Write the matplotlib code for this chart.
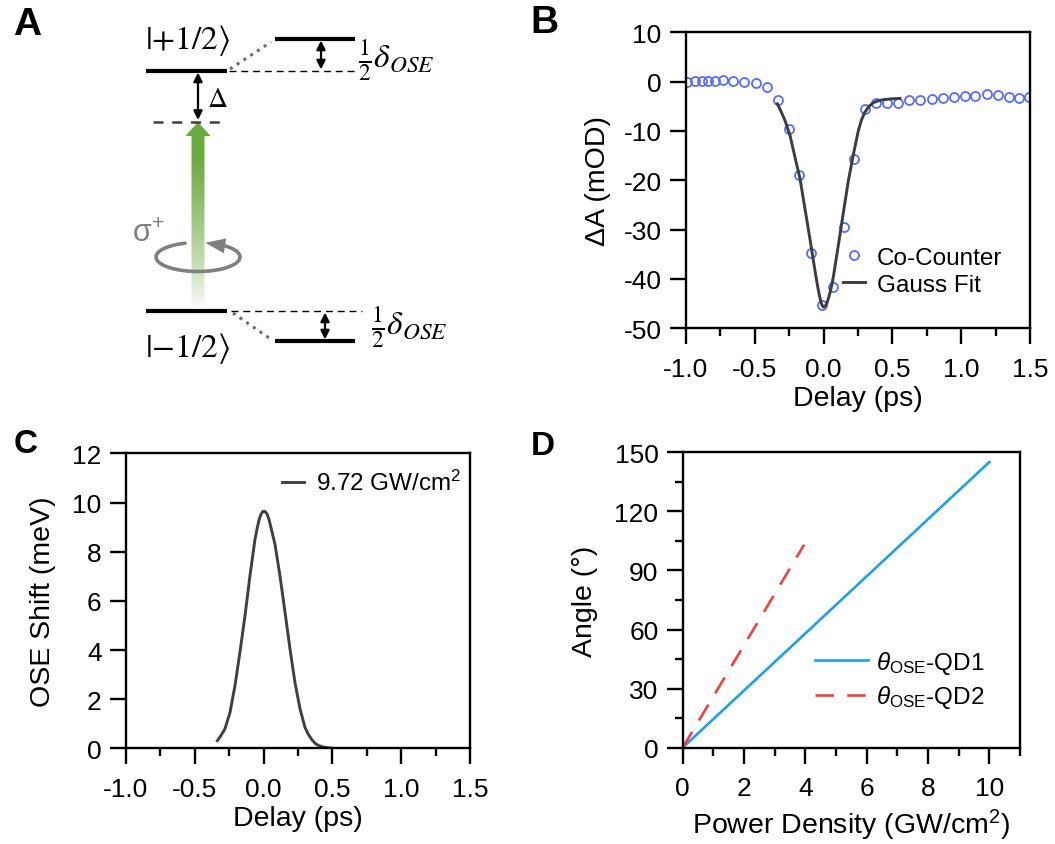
import numpy as np
import matplotlib
matplotlib.use('Agg')
import matplotlib.pyplot as plt
from matplotlib.patches import Polygon
from matplotlib.ticker import MultipleLocator, FormatStrFormatter

plt.rcParams['font.family'] = ['Liberation Sans', 'DejaVu Sans']
plt.rcParams['mathtext.fontset'] = 'custom'
plt.rcParams['mathtext.rm'] = 'Liberation Sans'
plt.rcParams['mathtext.it'] = 'Liberation Sans:italic'
plt.rcParams['axes.unicode_minus'] = False

# ---------------- data ----------------
# panel B: co-counter transient absorption
b_delay = [-0.99, -0.935, -0.886, -0.838, -0.79, -0.734, -0.656, -0.576, -0.494,
           -0.414, -0.334, -0.254, -0.176, -0.094, -0.012, 0.066, 0.146, 0.221,
           0.30, 0.38, 0.46, 0.54, 0.62, 0.70, 0.785, 0.865, 0.945, 1.025, 1.10,
           1.185, 1.265, 1.35, 1.42, 1.495]
b_dA = [0.0, 0.07, 0.07, 0.1, 0.1, 0.27, 0.07, -0.07, -0.27,
        -1.1, -3.8, -9.7, -18.9, -34.8, -45.2, -41.6, -29.5, -15.7,
        -5.5, -4.3, -4.3, -4.4, -3.7, -3.7, -3.5, -3.3, -3.1, -2.9, -2.9,
        -2.5, -2.8, -3.1, -3.3, -3.2]
# panel B: gauss fit curve
fit_delay = [-0.336, -0.31, -0.28, -0.244, -0.208, -0.171, -0.135, -0.099,
             -0.0625, -0.045, -0.03, -0.018, -0.008, 0.003, 0.013, 0.024,
             0.036, 0.052, 0.071, 0.107, 0.144, 0.180, 0.217, 0.253, 0.275,
             0.30, 0.33, 0.36, 0.395, 0.434, 0.49, 0.555]
fit_dA = [-4.5, -6.0, -7.9, -10.9, -15.3, -19.7, -25.8, -31.9,
          -38.3, -41.2, -43.4, -44.8, -45.5, -45.7, -45.5, -44.9,
          -43.9, -42.2, -39.6, -33.2, -26.5, -20.1, -14.7, -9.9, -7.8,
          -6.2, -5.0, -4.3, -3.9, -3.65, -3.5, -3.4]
# panel C: OSE shift at 9.72 GW/cm2
c_delay = [-0.336, -0.31, -0.281, -0.244, -0.208, -0.172, -0.135, -0.099,
           -0.0625, -0.045, -0.03, -0.018, -0.006, 0.004, 0.014, 0.026, 0.04,
           0.055, 0.07, 0.083, 0.119, 0.156, 0.192, 0.228, 0.265, 0.301, 0.325,
           0.35, 0.375, 0.398, 0.43, 0.459, 0.505]
c_shift = [0.31, 0.52, 0.79, 1.46, 2.55, 3.9, 5.4, 7.02,
           8.5, 9.0, 9.35, 9.53, 9.63, 9.65, 9.62, 9.52, 9.3,
           8.95, 8.6, 8.3, 7.02, 5.53, 4.04, 2.68, 1.6, 0.85, 0.57,
           0.36, 0.2, 0.12, 0.06, 0.03, 0.0]
# panel D: rotation angle vs power density
qd1_power = [0.0, 10.0]
qd1_angle = [0.0, 145.0]
qd2_power = [0.0, 3.96]
qd2_angle = [0.0, 103.0]

# ---------------- style ----------------
tickfs = 19
labelfs = 20.5
legfs = 17.5
spw = 1.7

fig = plt.figure(figsize=(10.55, 8.45), dpi=100)


def style_axes(ax):
    for s in ax.spines.values():
        s.set_linewidth(spw)
    ax.tick_params(which='both', direction='out', top=False, right=False,
                   width=spw, labelsize=tickfs)
    ax.tick_params(axis='x', which='both', pad=9)
    ax.tick_params(axis='y', which='both', pad=6)
    ax.tick_params(which='major', length=11.5)
    ax.tick_params(which='minor', length=5.5)


# ---------------- panel B ----------------
axB = fig.add_axes([0.6502, 0.6103, 0.3261, 0.3503])
axB.plot(b_delay, b_dA, 'o', mfc='none', mec='#5b6cf5', ms=6.5, mew=1.3,
         label='Co-Counter')
axB.plot(fit_delay, fit_dA, '-', color='#3c3c3c', lw=2.1, label='Gauss Fit',
         solid_joinstyle='round')
axB.set_xlim(-1.0, 1.5)
axB.set_ylim(-50, 10)
axB.xaxis.set_major_locator(MultipleLocator(0.5))
axB.xaxis.set_minor_locator(MultipleLocator(0.25))
axB.yaxis.set_major_locator(MultipleLocator(10))
axB.xaxis.set_major_formatter(FormatStrFormatter('%.1f'))
axB.yaxis.set_major_formatter(FormatStrFormatter('%d'))
style_axes(axB)
axB.set_xlabel('Delay (ps)', fontsize=labelfs, labelpad=3)
axB.set_ylabel('ΔA (mOD)', fontsize=labelfs, labelpad=9)
axB.legend(loc='upper left', bbox_to_anchor=(0.456, 0.275), frameon=False,
           fontsize=legfs, borderpad=0, borderaxespad=0, handlelength=0.9,
           handletextpad=0.5, labelspacing=0.2)

# ---------------- panel C ----------------
axC = fig.add_axes([0.1194, 0.1132, 0.3261, 0.3491])
axC.plot(c_delay, c_shift, '-', color='#404040', lw=2.1,
         label='9.72 GW/cm$^{2}$', solid_joinstyle='round')
axC.set_xlim(-1.0, 1.5)
axC.set_ylim(0, 12)
axC.xaxis.set_major_locator(MultipleLocator(0.5))
axC.xaxis.set_minor_locator(MultipleLocator(0.25))
axC.yaxis.set_major_locator(MultipleLocator(2))
axC.xaxis.set_major_formatter(FormatStrFormatter('%.1f'))
style_axes(axC)
axC.set_xlabel('Delay (ps)', fontsize=labelfs, labelpad=3)
axC.set_ylabel('OSE Shift (meV)', fontsize=labelfs, labelpad=12)
axC.legend(loc='upper left', bbox_to_anchor=(0.453, 0.943), frameon=False,
           fontsize=legfs, borderpad=0, borderaxespad=0, handlelength=0.9,
           handletextpad=0.5)

# ---------------- panel D ----------------
axD = fig.add_axes([0.6471, 0.1140, 0.3197, 0.3496])
axD.plot(qd1_power, qd1_angle, '-', color='#1ea0ea', lw=1.9,
         label=r'$\theta_{\mathrm{OSE}}$-QD1')
axD.plot(qd2_power, qd2_angle, '--', color='#f04040', lw=1.9, dashes=(7, 5),
         label=r'$\theta_{\mathrm{OSE}}$-QD2')
axD.set_xlim(0, 11)
axD.set_ylim(0, 150)
axD.xaxis.set_major_locator(MultipleLocator(2))
axD.xaxis.set_minor_locator(MultipleLocator(1))
axD.yaxis.set_major_locator(MultipleLocator(30))
axD.yaxis.set_minor_locator(MultipleLocator(15))
style_axes(axD)
axD.set_xlabel('Power Density (GW/cm$^{2}$)', fontsize=labelfs, labelpad=5)
axD.set_ylabel('Angle (°)', fontsize=labelfs, labelpad=12)
axD.legend(loc='upper left', bbox_to_anchor=(0.392, 0.334), frameon=False,
           fontsize=legfs, borderpad=0, borderaxespad=0, handlelength=2.2,
           handletextpad=0.3, labelspacing=0.3)

# ---------------- panel A : level diagram (pixel coordinates) ----------------
ov = fig.add_axes([0, 0, 1, 1], zorder=-1)
ov.set_xlim(0, 1055)
ov.set_ylim(845, 0)
ov.axis('off')

lev_l = (146, 227)
lev_r = (275, 355)
y_up, y_up_s = 72, 40
y_lo, y_lo_s = 312, 342
y_virt = 122.5

# green excitation arrow with fading gradient
arrow_xy = [(198, y_virt + 0.5), (210.5, 137), (204.5, 137), (204.5, 310),
            (191.5, 310), (191.5, 137), (185.5, 137)]
grad = np.ones((200, 1, 4))
grad[:, 0, 0] = 0.42
grad[:, 0, 1] = 0.67
grad[:, 0, 2] = 0.25
grad[:, 0, 3] = np.clip(np.linspace(1.25, 0.0, 200), 0, 1) ** 0.8
im = ov.imshow(grad, extent=(185, 211, 310, y_virt), origin='upper',
               aspect='auto', interpolation='bilinear', zorder=1)
clip = Polygon(arrow_xy, closed=True, transform=ov.transData, fc='none', ec='none')
ov.add_patch(clip)
im.set_clip_path(clip)

# energy levels
for yy in (y_up, y_lo):
    ov.plot(lev_l, (yy, yy), '-', color='k', lw=3.0, solid_capstyle='butt', zorder=3)
for yy in (y_up_s, y_lo_s):
    ov.plot(lev_r, (yy, yy), '-', color='k', lw=3.0, solid_capstyle='butt', zorder=3)
ov.plot((229, 355), (y_up, y_up), '--', color='k', lw=1.0, dashes=(5, 3.5), zorder=2)
ov.plot((231, 362), (y_lo, y_lo), '--', color='k', lw=1.0, dashes=(5, 3.5), zorder=2)
ov.plot((153, 224), (y_virt, y_virt), '--', color='#404040', lw=1.8,
        dashes=(4, 3.5), zorder=2)
ov.plot((230, 271), (70, 43), ':', color='#6e6e6e', lw=2.2, zorder=2)
ov.plot((233, 272), (314, 341), ':', color='#6e6e6e', lw=2.2, zorder=2)

# double arrows
for xx, y0, y1 in ((321, y_up_s, y_up), (325, y_lo, y_lo_s), (198, y_up, y_virt)):
    ov.annotate('', xy=(xx, y0 + 1.5), xytext=(xx, y1 - 1.5),
                arrowprops=dict(arrowstyle='<|-|>', color='k', lw=1.6,
                                mutation_scale=13, shrinkA=0, shrinkB=0), zorder=4)

# circular polarisation arrow
cx, cy, ea, eb = 198, 258, 42, 14.5
t = np.radians(np.linspace(50, -252, 200))
ov.plot(cx + ea * np.cos(t), cy - eb * np.sin(t), '-', color='#808080', lw=2.6,
        solid_capstyle='round', zorder=3)
tb, tt = np.radians(50), np.radians(80)
base = np.array([cx + ea * np.cos(tb), cy - eb * np.sin(tb)])
tip = np.array([cx + ea * np.cos(tt), cy - eb * np.sin(tt)])
d = (tip - base) / np.hypot(*(tip - base))
nrm = np.array([-d[1], d[0]])
head = [tip, base + 7.5 * nrm, base - 7.5 * nrm]
ov.add_patch(Polygon(head, closed=True, fc='#808080', ec='none', zorder=4))

# texts of the diagram
ov.text(145, 41, r'$|{+}1/2\rangle$', fontsize=24, math_fontfamily='stix',
        ha='left', va='center')
ov.text(145, 349, r'$|{-}1/2\rangle$', fontsize=24, math_fontfamily='stix',
        ha='left', va='center')
ov.text(358, 60, r'$\frac{1}{2}\delta_{OSE}$', fontsize=24, math_fontfamily='stix',
        ha='left', va='center')
ov.text(371, 327, r'$\frac{1}{2}\delta_{OSE}$', fontsize=24, math_fontfamily='stix',
        ha='left', va='center')
ov.text(207, 100, r'$\Delta$', fontsize=20, math_fontfamily='stix',
        ha='left', va='center')
ov.text(132, 234, 'σ$^{+}$', fontsize=22, color='#7f7f7f', ha='left', va='center')

# panel letters
for letter, px, py, fs in (('A', 27, 25, 28), ('B', 544, 23, 28),
                           ('C', 26, 445, 24), ('D', 543, 447, 24)):
    ov.text(px, py, letter, fontsize=fs, fontweight='bold', ha='center', va='center')

fig.savefig('out.png', dpi=100)
